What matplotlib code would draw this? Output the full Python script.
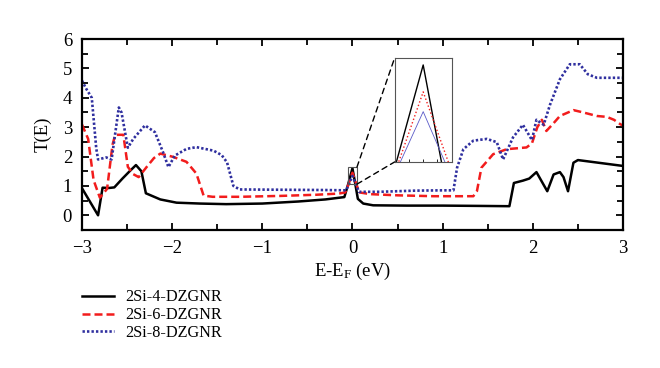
import numpy as np
import matplotlib
matplotlib.use('Agg')
import matplotlib.pyplot as plt
import matplotlib.ticker as ticker
from matplotlib.patches import Rectangle, ConnectionPatch

plt.rcParams['font.family'] = ['Liberation Serif', 'DejaVu Serif']
plt.rcParams['mathtext.fontset'] = 'custom'
plt.rcParams['mathtext.rm'] = 'Liberation Serif'
plt.rcParams['mathtext.it'] = 'Liberation Serif:italic'

# --- data ---
labels = ['2Si-4-DZGNR', '2Si-6-DZGNR', '2Si-8-DZGNR']

e4 = [-3.0, -2.82, -2.77, -2.70, -2.64, -2.55, -2.47, -2.40, -2.34, -2.29, -2.13,
      -1.95, -1.69, -1.40, -1.00, -0.60, -0.30, -0.09, -0.047, 0.0, 0.032, 0.06,
      0.12, 0.23, 0.60, 1.00, 1.40, 1.74, 1.79, 1.89, 1.96, 2.04, 2.16, 2.23, 2.30,
      2.34, 2.39, 2.45, 2.50, 2.70, 3.0]
t4 = [0.93, 0.0, 0.94, 0.93, 0.95, 1.25, 1.50, 1.71, 1.50, 0.75, 0.54,
      0.43, 0.40, 0.38, 0.40, 0.47, 0.54, 0.62, 1.06, 1.60, 1.06, 0.56,
      0.40, 0.34, 0.33, 0.33, 0.32, 0.31, 1.10, 1.18, 1.25, 1.47, 0.82, 1.39, 1.47,
      1.30, 0.82, 1.79, 1.88, 1.80, 1.68]

e6 = [-3.0, -2.93, -2.87, -2.80, -2.72, -2.66, -2.63, -2.54, -2.49, -2.43, -2.37,
      -2.28, -2.20, -2.13, -1.99, -1.84, -1.73, -1.65, -1.55, -1.25, -0.80, -0.40,
      -0.15, -0.08, -0.043, 0.0, 0.044, 0.075, 0.20, 0.50, 0.90, 1.34, 1.38, 1.43,
      1.56, 1.71, 1.93, 1.99, 2.05, 2.10, 2.15, 2.22, 2.30, 2.45, 2.56, 2.71, 2.82,
      2.90, 2.97, 3.0]
t6 = [3.10, 2.60, 1.20, 0.60, 0.90, 2.40, 2.74, 2.74, 1.65, 1.40, 1.30,
      1.65, 1.95, 2.10, 1.99, 1.82, 1.42, 0.67, 0.63, 0.63, 0.66, 0.70,
      0.74, 0.78, 1.06, 1.45, 1.06, 0.78, 0.72, 0.68, 0.65, 0.65, 0.82, 1.62,
      2.08, 2.25, 2.31, 2.45, 3.00, 3.25, 2.87, 3.10, 3.38, 3.58, 3.50, 3.38, 3.35,
      3.25, 3.10, 3.05]

e8 = [-3.0, -2.95, -2.89, -2.84, -2.82, -2.73, -2.67, -2.59, -2.56, -2.49, -2.43,
      -2.30, -2.19, -2.10, -2.04, -1.97, -1.84, -1.73, -1.54, -1.45, -1.39, -1.32,
      -1.25, -0.80, -0.30, -0.07, -0.04, 0.0, 0.038, 0.073, 0.30, 0.70, 1.00, 1.12,
      1.16, 1.23, 1.34, 1.49, 1.60, 1.67, 1.78, 1.89, 1.99, 2.04, 2.12, 2.19, 2.30,
      2.41, 2.52, 2.61, 2.71, 3.0]
t8 = [4.59, 4.30, 4.00, 2.27, 1.90, 1.97, 1.90, 3.67, 3.50, 2.30, 2.60,
      3.06, 2.83, 2.15, 1.64, 2.03, 2.26, 2.32, 2.20, 2.05, 1.80, 1.00,
      0.88, 0.87, 0.86, 0.85, 1.06, 1.34, 1.06, 0.80, 0.80, 0.84, 0.85, 0.85,
      1.62, 2.25, 2.54, 2.60, 2.49, 1.90, 2.65, 3.08, 2.56, 3.25, 3.08, 3.76, 4.63,
      5.14, 5.14, 4.80, 4.68, 4.68]

xticks = [-3, -2, -1, 0, 1, 2, 3]
yticks = [0, 1, 2, 3, 4, 5, 6]

red = '#f21c1c'
blue = '#2f2f9f'

fig = plt.figure(figsize=(6.6, 3.68), dpi=100)
ax = fig.add_axes([0.124, 0.375, 0.82, 0.519])

st4 = dict(color='black', lw=1.8, ls='-')
st6 = dict(color=red, lw=1.8, ls=(0, (3.2, 1.6)))
st8 = dict(color=blue, lw=1.9, ls=(0, (0.9, 0.8)))

ax.plot(e4, t4, label=labels[0], **st4)
ax.plot(e6, t6, label=labels[1], **st6)
ax.plot(e8, t8, label=labels[2], **st8)

ax.set_xlim(-3, 3)
ax.set_ylim(-0.5, 6)
ax.set_xticks(xticks)
ax.set_yticks(yticks)
ax.xaxis.set_minor_locator(ticker.MultipleLocator(0.5))
ax.yaxis.set_minor_locator(ticker.MultipleLocator(0.5))
ax.tick_params(which='both', direction='in', top=True, right=True, width=1.3)
ax.tick_params(which='major', length=5, labelsize=13.5, pad=7)
ax.tick_params(which='minor', length=4)
for s in ax.spines.values():
    s.set_linewidth(1.6)

ax.set_xlabel(r'E-E$_\mathrm{F}$ (eV)', fontsize=13.5, labelpad=3)
ax.set_ylabel('T(E)', fontsize=13.5, labelpad=8)

# zoom window around the Fermi level
x0, x1, y0, y1 = -0.05, 0.05, 1.06, 1.64
ax.add_patch(Rectangle((x0, y0), x1 - x0, y1 - y0, fill=False,
                       ec='#555555', lw=0.8, zorder=5))

axin = fig.add_axes([0.598, 0.560, 0.0864, 0.283])
axin.plot(e4, t4, color='black', lw=1.0)
axin.plot(e6, t6, color=red, lw=1.0, ls=':')
axin.plot(e8, t8, color='#5a5ac8', lw=0.6)
axin.set_xlim(x0, x1)
axin.set_ylim(y0, y1)
axin.set_xticks([-0.025, 0.0, 0.025])
axin.set_yticks([])
axin.tick_params(direction='in', length=2, labelbottom=False, width=0.6)
for s in axin.spines.values():
    s.set_linewidth(0.8)
    s.set_edgecolor('#555555')

for (xa, ya), (xb, yb) in [((x1, y1), (0, 1)), ((x1, y0), (0, 0))]:
    cp = ConnectionPatch(xyA=(xa, ya), coordsA=ax.transData,
                         xyB=(xb, yb), coordsB=axin.transAxes,
                         color='black', lw=1.0, ls=(0, (4, 3)))
    fig.add_artist(cp)

fig.legend(loc='upper left', bbox_to_anchor=(0.112, 0.236), frameon=False,
           fontsize=11.7, handlelength=1.95, labelspacing=0.12,
           borderpad=0, handletextpad=0.7)

fig.savefig('out.png', dpi=100)
